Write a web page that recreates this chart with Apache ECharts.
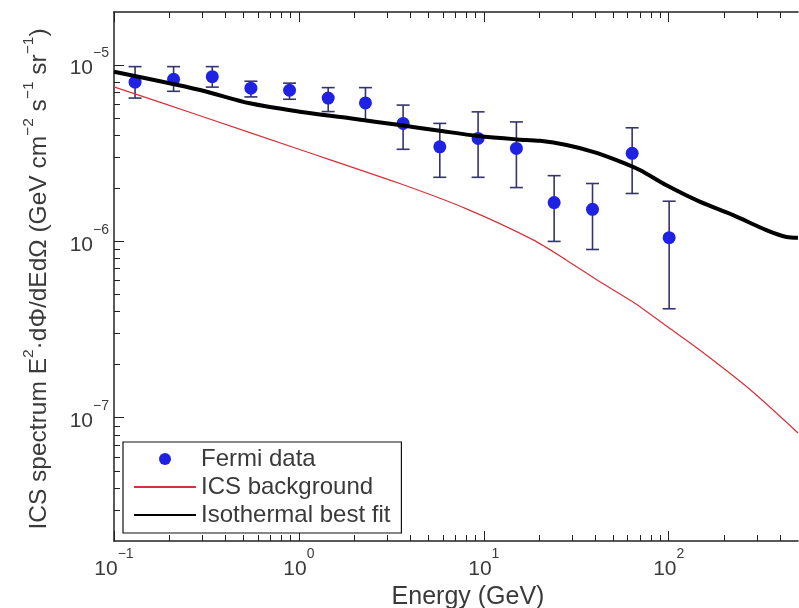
<!DOCTYPE html>
<html><head><meta charset="utf-8">
<script src="https://cdn.jsdelivr.net/npm/echarts@6/dist/echarts.min.js"></script>
<style>html,body{margin:0;padding:0;background:#fff}#c{width:799px;height:608px}</style>
</head><body><div id="c"></div>
<script>
// Fermi data points (energy in GeV, flux with error bounds)
const energy   = [0.13, 0.21, 0.34, 0.55, 0.89, 1.44, 2.29, 3.66, 5.78, 9.31, 15.0, 24.0, 38.7, 63.4, 100.5];
const flux     = [8.0e-6, 8.3e-6, 8.6e-6, 7.4e-6, 7.2e-6, 6.5e-6, 6.1e-6, 4.67e-6, 3.44e-6, 3.84e-6, 3.37e-6, 1.66e-6, 1.52e-6, 3.16e-6, 1.05e-6];
const fluxHigh = [9.8e-6, 9.8e-6, 9.8e-6, 8.1e-6, 7.9e-6, 7.45e-6, 7.45e-6, 5.93e-6, 4.67e-6, 5.43e-6, 4.76e-6, 2.36e-6, 2.13e-6, 4.41e-6, 1.69e-6];
const fluxLow  = [6.5e-6, 7.1e-6, 7.5e-6, 6.6e-6, 6.4e-6, 5.45e-6, 4.85e-6, 3.33e-6, 2.31e-6, 2.31e-6, 2.02e-6, 1.0e-6, 9.0e-7, 1.87e-6, 4.15e-7];
// ICS background curve
const bgEnergy = [0.1, 0.292, 1.01, 3.51, 8.06, 18.5, 28.0, 42.4, 64.1, 97.2, 147, 274, 500];
const bgFlux   = [7.53e-6, 5.16e-6, 3.32e-6, 2.13e-6, 1.53e-6, 1.02e-6, 7.83e-7, 5.9e-7, 4.53e-7, 3.31e-7, 2.42e-7, 1.45e-7, 8.2e-8];
// Isothermal best fit curve
const fitEnergy = [0.1, 0.292, 0.543, 1.01, 1.89, 3.51, 5.78, 9.32, 15.0, 20.1, 28.0, 39.0, 52.2, 69.7, 97.2, 147, 223, 337, 433, 500];
const fitFlux   = [9.16e-6, 7.22e-6, 6.07e-6, 5.44e-6, 4.99e-6, 4.57e-6, 4.24e-6, 3.96e-6, 3.79e-6, 3.72e-6, 3.52e-6, 3.22e-6, 2.89e-6, 2.54e-6, 2.08e-6, 1.68e-6, 1.41e-6, 1.16e-6, 1.06e-6, 1.05e-6];
// Axis ticks
const xMajor = [0.1, 1, 10, 100];
const yMajor = [1e-7, 1e-6, 1e-5];
const xMinor = [0.2,0.3,0.4,0.5,0.6,0.7,0.8,0.9, 2,3,4,5,6,7,8,9, 20,30,40,50,60,70,80,90, 200,300,400];
const yMinor = [3e-8,4e-8,5e-8,6e-8,7e-8,8e-8,9e-8, 2e-7,3e-7,4e-7,5e-7,6e-7,7e-7,8e-7,9e-7, 2e-6,3e-6,4e-6,5e-6,6e-6,7e-6,8e-6,9e-6];

const FONT = 'Liberation Sans';
const TXT = '#3a3a3a';
const AX = '#222';

function expLabel(v) {
  const e = Math.round(Math.log10(v));
  return '{n|10}{s|' + (e < 0 ? '\u2212' : '') + Math.abs(e) + '}';
}
const labelRich = {
  n: { fontSize: 21, fontFamily: FONT, color: TXT, lineHeight: 44, verticalAlign: 'middle' },
  s: { fontSize: 14, fontFamily: FONT, color: TXT, lineHeight: 14, verticalAlign: 'top' }
};

const chart = echarts.init(document.getElementById('c'), null, { renderer: 'canvas' });
const gridPos = { left: 114, top: 12, right: 1, bottom: 67, containLabel: false, outerBoundsMode: 'none' };

const xBase = { type: 'log', logBase: 10, min: 0.1, max: 500, splitLine: { show: false } };
const yBase = { type: 'log', logBase: 10, min: 2e-8, max: 2e-5, splitLine: { show: false } };

chart.setOption({
  animation: false,
  backgroundColor: '#fff',
  grid: [Object.assign({}, gridPos), Object.assign({}, gridPos)],
  legend: {
    left: 123, top: 442, orient: 'vertical',
    backgroundColor: '#fff', borderColor: '#111', borderWidth: 1.2,
    padding: [4, 11, 5, 10], itemGap: 2, itemWidth: 62, itemHeight: 12,
    textStyle: { fontSize: 24, fontFamily: FONT, color: TXT, lineHeight: 26 },
    data: [
      { name: 'Fermi data', icon: 'circle' },
      { name: 'ICS background', itemStyle: { opacity: 0 } },
      { name: 'Isothermal best fit', itemStyle: { opacity: 0 } }
    ]
  },
  xAxis: [
    Object.assign({}, xBase, {
      gridIndex: 0, position: 'bottom',
      axisLine: { show: true, lineStyle: { color: AX, width: 1.5 } },
      axisTick: { show: true, inside: true, length: 10, lineStyle: { color: AX }, customValues: xMajor },
      axisLabel: { show: true, margin: 6, customValues: xMajor, formatter: expLabel, rich: labelRich },
      name: 'Energy (GeV)', nameLocation: 'middle', nameGap: 40,
      nameTextStyle: { fontSize: 25, fontFamily: FONT, color: TXT, padding: [0, 0, 0, 24] }
    }),
    Object.assign({}, xBase, {
      gridIndex: 0, position: 'top',
      axisLine: { show: true, lineStyle: { color: AX, width: 1.5 } },
      axisTick: { show: true, inside: true, length: 10, lineStyle: { color: AX }, customValues: xMajor },
      axisLabel: { show: false }
    }),
    Object.assign({}, xBase, {
      gridIndex: 1, position: 'bottom',
      axisLine: { show: false },
      axisTick: { show: true, inside: true, length: 6, lineStyle: { color: AX }, customValues: xMinor },
      axisLabel: { show: false }
    }),
    Object.assign({}, xBase, {
      gridIndex: 1, position: 'top',
      axisLine: { show: false },
      axisTick: { show: true, inside: true, length: 6, lineStyle: { color: AX }, customValues: xMinor },
      axisLabel: { show: false }
    })
  ],
  yAxis: [
    Object.assign({}, yBase, {
      gridIndex: 0, position: 'left',
      axisLine: { show: true, lineStyle: { color: AX, width: 1.5 } },
      axisTick: { show: true, inside: true, length: 10, lineStyle: { color: AX }, customValues: yMajor },
      axisLabel: { show: true, margin: 5, padding: [7, 0, 0, 0], customValues: yMajor, formatter: expLabel, rich: labelRich },
      name: '{n|ICS spectrum E}{s|2}{n|\u00b7d\u03a6/dEd\u03a9 (GeV cm}{s|\u22122}{n| s}{s|\u22121}{n| sr}{s|\u22121}{n|)}',
      nameLocation: 'middle', nameGap: 57,
      nameTextStyle: {
        fontSize: 24.5, fontFamily: FONT, color: TXT, padding: [0, 5, 0, 0],
        rich: {
          n: { fontSize: 24.5, fontFamily: FONT, color: TXT, lineHeight: 36, verticalAlign: 'middle' },
          s: { fontSize: 15.5, fontFamily: FONT, color: TXT, lineHeight: 15, verticalAlign: 'top' }
        }
      }
    }),
    Object.assign({}, yBase, {
      gridIndex: 1, position: 'left',
      axisLine: { show: false },
      axisTick: { show: true, inside: true, length: 6, lineStyle: { color: AX }, customValues: yMinor },
      axisLabel: { show: false }
    })
  ],
  series: [
    {
      type: 'custom', name: 'errorbars', xAxisIndex: 0, yAxisIndex: 0, z: 1,
      data: energy.map((e, i) => [e, fluxLow[i], fluxHigh[i]]),
      encode: { x: 0, y: [1, 2] },
      renderItem: function (params, api) {
        const x = api.value(0);
        const lo = api.coord([x, api.value(1)]);
        const hi = api.coord([x, api.value(2)]);
        const w = 6.5;
        const st = { stroke: '#34346c', lineWidth: 1.6 };
        return {
          type: 'group',
          children: [
            { type: 'line', shape: { x1: lo[0], y1: lo[1], x2: hi[0], y2: hi[1] }, style: st },
            { type: 'line', shape: { x1: lo[0] - w, y1: lo[1], x2: lo[0] + w, y2: lo[1] }, style: st },
            { type: 'line', shape: { x1: hi[0] - w, y1: hi[1], x2: hi[0] + w, y2: hi[1] }, style: st }
          ]
        };
      }
    },
    {
      type: 'scatter', name: 'Fermi data', xAxisIndex: 0, yAxisIndex: 0, z: 2,
      symbol: 'circle', symbolSize: 13,
      itemStyle: { color: '#1f22e0', opacity: 1 },
      data: energy.map((e, i) => [e, flux[i]])
    },
    {
      type: 'line', name: 'ICS background', xAxisIndex: 0, yAxisIndex: 0, z: 3,
      symbol: 'none', showSymbol: false, smooth: 0.25,
      lineStyle: { color: '#d8303a', width: 1.2 },
      itemStyle: { color: '#d8303a' },
      data: bgEnergy.map((e, i) => [e, bgFlux[i]])
    },
    {
      type: 'line', name: 'Isothermal best fit', xAxisIndex: 0, yAxisIndex: 0, z: 4,
      symbol: 'none', showSymbol: false, smooth: 0.3,
      lineStyle: { color: '#000', width: 4 },
      itemStyle: { color: '#000' },
      data: fitEnergy.map((e, i) => [e, fitFlux[i]])
    }
  ]
});
</script>
</body></html>
